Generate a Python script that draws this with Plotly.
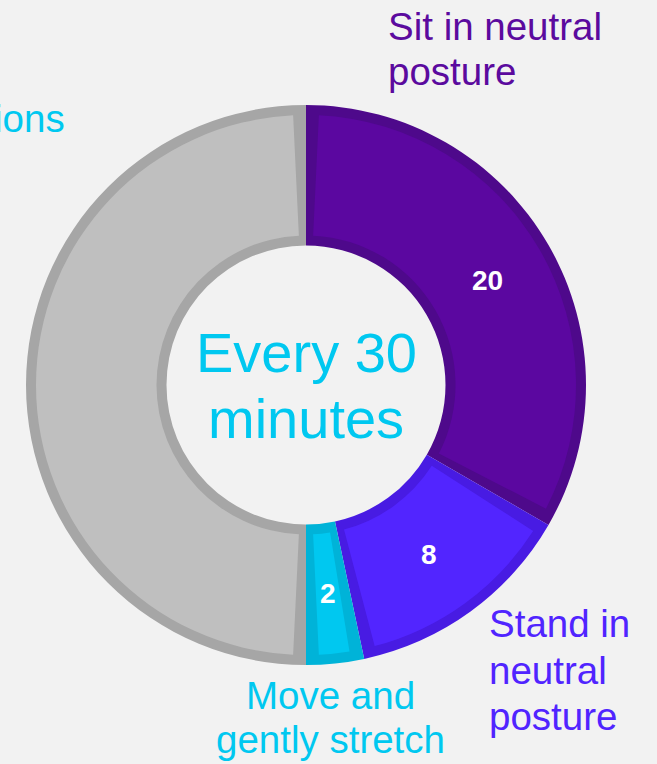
import math
import plotly.graph_objects as go

# ---- data ----
categories = ["Sit in neutral posture", "Stand in neutral posture", "Move and gently stretch", "ions"]
minutes = [20, 8, 2, 30]
value_labels = ["20", "8", "2", ""]
center_lines = ["Every 30", "minutes"]

# ---- styles ----
fill_colors = ["#5B07A0", "#5225FF", "#00C8F0", "#BFBFBF"]
edge_colors = ["#4E098B", "#481BE3", "#00B3D8", "#A6A6A6"]
label_colors = ["#5B0A9E", "#5024FF", "#00C8F0", "#00C8F0"]
BG = "#F2F2F2"
FONT = "Liberation Sans, Arial, sans-serif"

W, H = 657, 764
CX, CY = 306, 385          # pixel centre of the ring
R_OUT, R_IN = 280, 139.5   # ring radii (px)
BORDER = 10                # inset border width (px)


def dom(r):
    return dict(x=[(CX - r) / W, (CX + r) / W],
                y=[(H - CY - r) / H, (H - CY + r) / H])


fig = go.Figure()

# dark outer ring (acts as the inset border)
fig.add_trace(go.Pie(
    values=minutes, labels=categories, sort=False, direction="clockwise",
    hole=R_IN / R_OUT, domain=dom(R_OUT),
    marker=dict(colors=edge_colors, line=dict(width=0)),
    textinfo="none", showlegend=False, hovertemplate="%{label}: %{value}<extra></extra>",
))

# lighter inner fill, inset by BORDER on all sides
r_mid = (R_OUT + R_IN) / 2
total = sum(minutes)
gap = BORDER / r_mid * total / (2 * math.pi)
vals_b, cols_b, labs_b = [], [], []
for i, (c, v) in enumerate(zip(categories, minutes)):
    vals_b += [gap, v - 2 * gap, gap]
    cols_b += ["rgba(0,0,0,0)", fill_colors[i], "rgba(0,0,0,0)"]
    labs_b += [f"{c} a", c, f"{c} b"]
fig.add_trace(go.Pie(
    values=vals_b, labels=labs_b, sort=False, direction="clockwise",
    hole=(R_IN + BORDER) / (R_OUT - BORDER), domain=dom(R_OUT - BORDER),
    marker=dict(colors=cols_b, line=dict(width=0)),
    textinfo="none", showlegend=False, hoverinfo="skip",
))


def add_line(text, x_px, baseline_px, size, color, xanchor, bold=False):
    yc = baseline_px - 0.3465 * size
    fig.add_annotation(text=text, x=x_px / W, y=(H - yc) / H, xref="paper", yref="paper",
                       xanchor=xanchor, yanchor="middle", showarrow=False,
                       font=dict(family=FONT, size=size, color=color,
                                 weight="bold" if bold else "normal"))


# value labels at each slice's mid-angle, mid-radius
cum = 0
for v, t in zip(minutes, value_labels):
    th = (cum + v / 2) / total * 2 * math.pi
    cum += v
    if not t:
        continue
    x = CX + r_mid * math.sin(th)
    y = CY - r_mid * math.cos(th)
    fig.add_annotation(text=t, x=x / W, y=(H - y) / H, xref="paper", yref="paper",
                       xanchor="center", yanchor="middle", showarrow=False,
                       font=dict(family=FONT, size=28, color="white", weight="bold"))

LS = 38.5
# category labels (split at natural line breaks)
lab_lines = [["Sit in neutral", "posture"],
             ["Stand in", "neutral", "posture"],
             ["Move and", "gently stretch"],
             ["ions"]]
lab_pos = [(386, 40, 45, "left"), (487, 637, 46.5, "left"), (330, 709, 44, "center"), (67, 132, 45, "right")]
for lines, (x, b0, step, anc), col in zip(lab_lines, lab_pos, label_colors):
    for k, t in enumerate(lines):
        add_line(t, x, b0 + k * step, LS, col, anc)

# centre text
for k, t in enumerate(center_lines):
    add_line(t, CX, 372 + k * 66, 56, "#00C8F0", "center")

fig.update_layout(width=W, height=H, autosize=False,
                  margin=dict(l=0, r=0, t=0, b=0),
                  paper_bgcolor=BG, plot_bgcolor=BG)

fig.write_html("out.html")
